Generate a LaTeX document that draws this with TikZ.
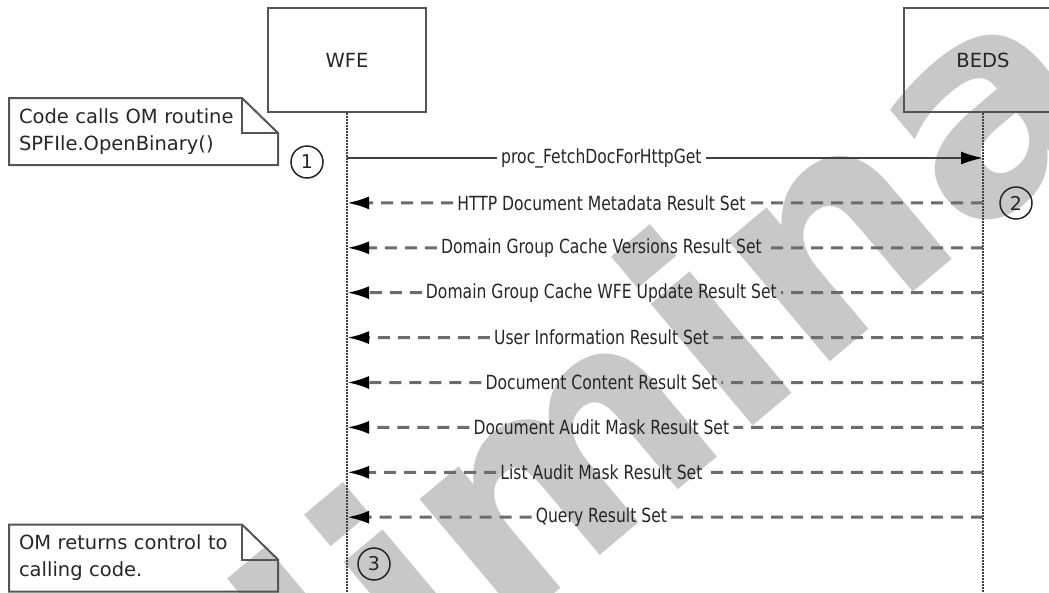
\documentclass[tikz,border=0pt]{standalone}
\usepackage{fontspec}
\setmainfont{DejaVu Sans}
\newfontfamily\msgfont{DejaVu Sans}[FakeStretch=0.8]
\usetikzlibrary{arrows.meta,calc}

\definecolor{boxline}{HTML}{555555}
\definecolor{dashline}{HTML}{6C6C6C}
\definecolor{markgray}{HTML}{C8C8C8}

\begin{document}
\begin{tikzpicture}[x=1pt,y=-1pt,
    actor/.style={draw=boxline,line width=2.5pt,minimum width=158pt,minimum height=104pt,
        text=black!85,font=\fontsize{19.5}{24}\selectfont},
    lifeline/.style={draw=black!75,line width=2pt,dash pattern=on 1.5pt off 1.5pt},
    notebox/.style={text width=249pt,inner xsep=10pt,inner ysep=0pt,outer sep=0pt,
        minimum height=67pt,align=left,text=black!85,font=\fontsize{19.5}{27}\selectfont},
    notefold/.style={draw=boxline,line width=2pt,line join=miter},
    num/.style={draw=black!85,circle,line width=1.5pt,minimum size=32pt,inner sep=0pt,
        text=black!85,font=\fontsize{19}{20}\selectfont},
    msg/.style={inner xsep=4pt,text=black!85,font=\msgfont\fontsize{19.5}{22}\selectfont},
    call/.style={draw=black!75,line width=2pt},
    reply/.style={draw=dashline,line width=3pt,dash pattern=on 12pt off 8pt},
    tip/.style={-{Latex[length=22pt,width=13pt,color=black]}},
    watermark/.style={rotate=40,text=markgray,font=\bfseries\fontsize{290}{290}\selectfont}]

    \useasboundingbox (0,0) rectangle (1049,592);
    \clip (0,0) rectangle (1049,592);

    % watermark behind everything
    \node[watermark] at (600,452) (wm) {Preliminary};

    \node[actor] at (347,60) (wfe) {WFE};
    \node[actor] at (983,60) (beds) {BEDS};
    \coordinate (wfe end) at (347,600);
    \coordinate (beds end) at (983,600);
    \draw[lifeline] (wfe) -- (wfe end);
    \draw[lifeline] (beds) -- (beds end);

    \node[notebox] at (143.5,131.5) (n1) {Code calls OM routine\\SPFIle.OpenBinary()};
    \node[notebox] at (143.5,558) (n2) {OM returns control to\\calling code.};
    \foreach \n in {n1,n2} {
        \draw[notefold] (\n.south west) -- (\n.north west) -- ([xshift=-36pt]\n.north east)
            -- ([yshift=-35pt]\n.north east) -- (\n.south east) -- cycle;
        \draw[notefold] ([xshift=-36pt]\n.north east) |- ([yshift=-35pt]\n.north east);
    }

    \node[num] at (307,162) (c1) {1};
    \node[num] at (1016,203) (c2) {2};
    \node[num] at (374,564) (c3) {3};

    % message rows on both lifelines
    \foreach \i in {1,...,9} {
        \coordinate (w\i) at (347,{158+44.9*(\i-1)});
        \coordinate (b\i) at (983,{158+44.9*(\i-1)});
    }

    \node[msg] at ($(w1)!0.4!(b1)$) (m1) {proc\_FetchDocForHttpGet};
    \draw[call] (w1) -- (m1);
    \draw[call,tip] (m1) -- (b1);

    \foreach \lbl [count=\i from 2] in {HTTP Document Metadata Result Set,
        Domain Group Cache Versions Result Set,Domain Group Cache WFE Update Result Set,
        User Information Result Set,Document Content Result Set,
        Document Audit Mask Result Set,List Audit Mask Result Set,Query Result Set} {
        \node[msg] at ($(w\i)!0.4!(b\i)$) (m\i) {\lbl};
        \draw[reply] (b\i) -- (m\i);
        \draw[reply,tip] (m\i) -- (w\i);
    }
\end{tikzpicture}
\end{document}
